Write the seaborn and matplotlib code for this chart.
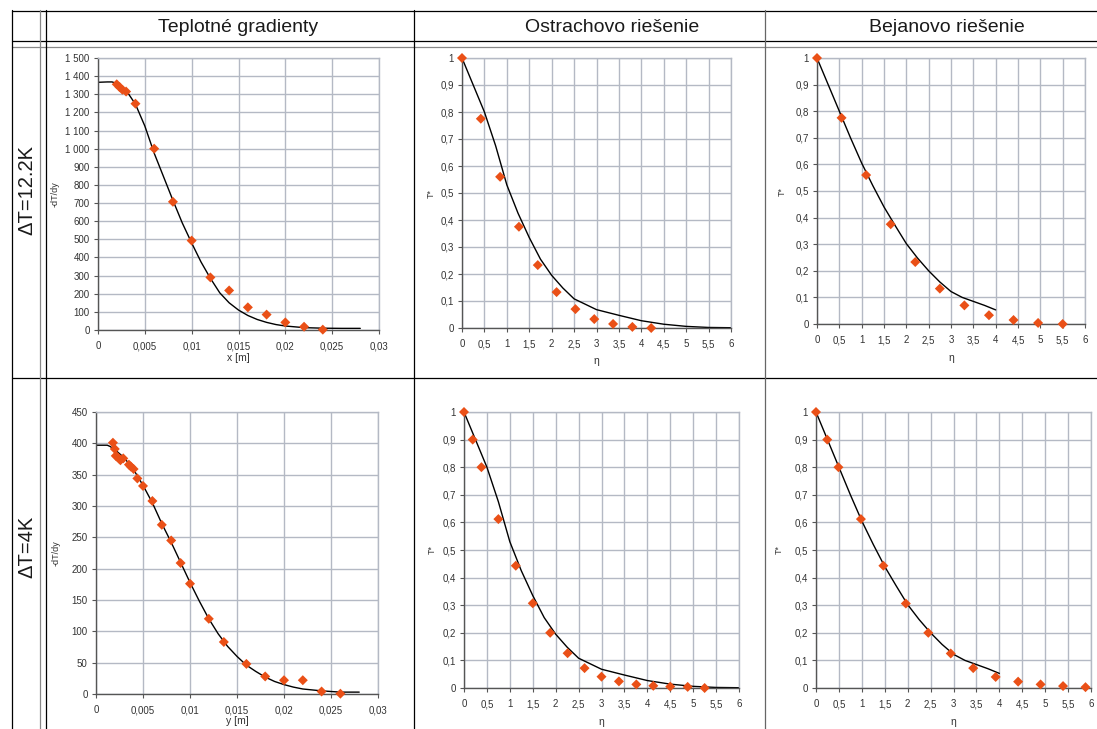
import matplotlib
matplotlib.use("Agg")
import matplotlib.pyplot as plt
import seaborn as sns
from matplotlib.lines import Line2D
from matplotlib.ticker import FuncFormatter, MultipleLocator

W, H = 1097, 729

# Temperature gradient, dT = 12.2 K
GRAD1_X = [0.002, 0.0023, 0.0026, 0.003, 0.004, 0.006, 0.008, 0.010, 0.012,
           0.014, 0.016, 0.018, 0.020, 0.022, 0.024]
GRAD1_Y = [1355, 1340, 1325, 1315, 1248, 1000, 707, 493, 290, 218, 125, 85,
           42, 18, 2]
GRAD1_LINE_X = [0, 0.001, 0.0015, 0.002, 0.003, 0.004, 0.005, 0.006, 0.007,
                0.008, 0.009, 0.010, 0.011, 0.012, 0.013, 0.014, 0.015, 0.016,
                0.017, 0.018, 0.019, 0.020, 0.022, 0.024, 0.026, 0.028]
GRAD1_LINE_Y = [1366, 1368, 1368, 1360, 1322, 1245, 1125, 975, 845, 715, 590,
                480, 375, 285, 205, 150, 110, 80, 58, 42, 30, 22, 13, 10, 9, 9]

# Temperature gradient, dT = 4 K
GRAD2_X = [0.0018, 0.002, 0.0021, 0.0023, 0.0025, 0.0026, 0.0029, 0.0035,
           0.0037, 0.004, 0.0044, 0.005, 0.006, 0.007, 0.008, 0.009, 0.010,
           0.012, 0.0136, 0.016, 0.018, 0.020, 0.022, 0.024, 0.026]
GRAD2_Y = [401, 391, 380, 378, 375, 373, 376, 366, 363, 359, 344, 332, 308,
           270, 245, 209, 176, 120, 83, 48, 28, 22, 22, 4, 0.5]
GRAD2_LINE_X = [0, 0.0012, 0.0015, 0.002, 0.003, 0.004, 0.005, 0.006, 0.007,
                0.008, 0.009, 0.010, 0.011, 0.012, 0.013, 0.014, 0.015, 0.016,
                0.017, 0.018, 0.019, 0.020, 0.021, 0.022, 0.024, 0.026, 0.028]
GRAD2_LINE_Y = [397, 397, 395, 390, 377, 358, 333, 305, 272, 242, 210, 178,
                148, 120, 96, 76, 60, 46, 36, 27, 20, 15, 11, 8, 5, 3, 3]

# Similarity solutions
OSTRACH_ETA = [0, 0.25, 0.5, 0.75, 1, 1.25, 1.5, 1.75, 2, 2.25, 2.5, 3, 3.5,
               4, 4.5, 5, 5.5, 6]
OSTRACH_T = [1, 0.9, 0.8, 0.675, 0.53, 0.425, 0.335, 0.255, 0.195, 0.148,
             0.108, 0.068, 0.047, 0.027, 0.014, 0.006, 0.002, 0.001]
BEJAN_ETA = [0, 0.25, 0.5, 0.75, 1, 1.25, 1.5, 1.75, 2, 2.25, 2.5, 2.75, 3,
             3.25, 3.5, 3.75, 4]
BEJAN_T = [1, 0.9, 0.8, 0.7, 0.605, 0.52, 0.44, 0.37, 0.302, 0.248, 0.2,
           0.158, 0.122, 0.1, 0.085, 0.07, 0.053]

# Measured T* vs eta
OST1_ETA = [0, 0.42, 0.85, 1.27, 1.69, 2.11, 2.53, 2.95, 3.37, 3.8, 4.22]
BEJ1_ETA = [0, 0.55, 1.1, 1.65, 2.2, 2.75, 3.3, 3.85, 4.4, 4.95, 5.5]
ROW1_T = [1, 0.775, 0.56, 0.375, 0.233, 0.133, 0.07, 0.033, 0.015, 0.004, 0.0]

OST2_ETA = [0, 0.19, 0.38, 0.75, 1.13, 1.5, 1.88, 2.26, 2.63, 3.0, 3.38,
            3.76, 4.13, 4.5, 4.88, 5.25]
OST2_T = [1, 0.9, 0.8, 0.612, 0.443, 0.307, 0.2, 0.126, 0.072, 0.041, 0.024,
          0.013, 0.008, 0.005, 0.004, 0.0]
BEJ2_ETA = [0, 0.245, 0.49, 0.98, 1.47, 1.96, 2.45, 2.94, 3.43, 3.92, 4.41,
            4.9, 5.39, 5.88]
BEJ2_T = [1, 0.9, 0.8, 0.612, 0.443, 0.306, 0.2, 0.125, 0.072, 0.04, 0.023,
          0.013, 0.007, 0.003]

HEADERS = ["Teplotné gradienty", "Ostrachovo riešenie", "Bejanovo riešenie"]
ROW_LABELS = ["\u0394T=12.2K", "\u0394T=4K"]

MARKER_COLOR = "#EA5017"
GRID_COLOR = "#B4B9C4"

sns.set_style("whitegrid")
plt.rcParams["font.family"] = ["Liberation Sans", "DejaVu Sans"]

fig = plt.figure(figsize=(W / 100, H / 100), dpi=100)


def rect(left, right, top, bottom):
    return [left / W, 1 - bottom / H, (right - left) / W, (bottom - top) / H]


def comma(v, _):
    return f"{v:g}".replace(".", ",")


def thousands(v, _):
    return f"{int(round(v)):,}".replace(",", " ")


def style(ax, xlim, ylim, xstep, ystep, yfmt, xlabel, ylabel, xl_pos, yl_pos):
    ax.set_xlim(*xlim)
    ax.set_ylim(*ylim)
    ax.xaxis.set_major_locator(MultipleLocator(xstep))
    ax.yaxis.set_major_locator(MultipleLocator(ystep))
    ax.xaxis.set_major_formatter(FuncFormatter(comma))
    ax.yaxis.set_major_formatter(FuncFormatter(yfmt))
    ax.grid(True, color=GRID_COLOR, lw=1.0)
    ax.set_facecolor("white")
    for side in ["top", "right"]:
        ax.spines[side].set_color(GRID_COLOR)
        ax.spines[side].set_linewidth(1.0)
    for side in ["left", "bottom"]:
        ax.spines[side].set_color("#555555")
        ax.spines[side].set_linewidth(1.0)
    ax.tick_params(axis="both", which="major", labelsize=7, colors="#555555",
                   labelcolor="#333333", length=3, width=0.8, direction="out")
    ax.tick_params(axis="x", pad=5)
    ax.tick_params(axis="y", pad=3)
    ax.tick_params(left=True, bottom=True)
    ax.set_xlabel(xlabel, fontsize=7.5, color="#333333")
    ax.set_ylabel(ylabel, fontsize=6.5, color="#333333")
    ax.xaxis.set_label_coords(0.5, xl_pos)
    ax.yaxis.set_label_coords(yl_pos, 0.5)


def draw(ax, line_x, line_y, pts_x, pts_y):
    sns.lineplot(x=line_x, y=line_y, ax=ax, color="black", lw=1.0,
                 estimator=None, zorder=2)
    sns.scatterplot(x=pts_x, y=pts_y, ax=ax, marker="D", color=MARKER_COLOR,
                    s=26, edgecolor="none", zorder=3, clip_on=False)


# Row 1
ax = fig.add_axes(rect(98, 379, 58, 330))
draw(ax, GRAD1_LINE_X, GRAD1_LINE_Y, GRAD1_X, GRAD1_Y)
style(ax, (0, 0.03), (0, 1500), 0.005, 100, thousands, "x [m]", "-dT/dy",
      -0.085, -0.135)

ax = fig.add_axes(rect(462, 731, 58, 328))
draw(ax, OSTRACH_ETA, OSTRACH_T, OST1_ETA, ROW1_T)
style(ax, (0, 6), (0, 1), 0.5, 0.1, comma, "\u03b7", "T*", -0.105, -0.098)

ax = fig.add_axes(rect(817, 1085, 58, 324))
draw(ax, BEJAN_ETA, BEJAN_T, BEJ1_ETA, ROW1_T)
style(ax, (0, 6), (0, 1), 0.5, 0.1, comma, "\u03b7", "T*", -0.11, -0.113)

# Row 2
ax = fig.add_axes(rect(96, 378, 412, 694))
draw(ax, GRAD2_LINE_X, GRAD2_LINE_Y, GRAD2_X, GRAD2_Y)
style(ax, (0, 0.03), (0, 450), 0.005, 50, thousands, "y [m]", "-dT/dy",
      -0.078, -0.125)

ax = fig.add_axes(rect(464, 739, 412, 688))
draw(ax, OSTRACH_ETA, OSTRACH_T, OST2_ETA, OST2_T)
style(ax, (0, 6), (0, 1), 0.5, 0.1, comma, "\u03b7", "T*", -0.105, -0.10)

ax = fig.add_axes(rect(816, 1091, 412, 688))
draw(ax, BEJAN_ETA, BEJAN_T, BEJ2_ETA, BEJ2_T)
style(ax, (0, 6), (0, 1), 0.5, 0.1, comma, "\u03b7", "T*", -0.105, -0.117)


# Table frame
def hline(y, x0, x1, color="black", lw=0.9):
    fig.add_artist(Line2D([x0 / W, x1 / W], [1 - y / H, 1 - y / H],
                          transform=fig.transFigure, color=color, lw=lw))


def vline(x, y0, y1, color="black", lw=0.9):
    fig.add_artist(Line2D([x / W, x / W], [1 - y0 / H, 1 - y1 / H],
                          transform=fig.transFigure, color=color, lw=lw))


hline(10.5, 12, W)
hline(41, 12, W)
hline(47, 12, W, color="#888888")
hline(378, 12, W)
vline(11.5, 10, H)
vline(40, 10, H, color="#888888")
vline(46, 10, H)
vline(414, 10, H)
vline(764.5, 10, H, color="#666666")

for text, cx in zip(HEADERS, [238, 612, 947]):
    fig.text(cx / W, 1 - 27 / H, text, ha="center", va="center", fontsize=14,
             color="#1a1a1a")

for text, cy in zip(ROW_LABELS, [190, 547]):
    fig.text(27 / W, 1 - cy / H, text, ha="center", va="center",
             fontsize=14.5, rotation=90, color="#1a1a1a")

fig.savefig("out.png", dpi=100)
